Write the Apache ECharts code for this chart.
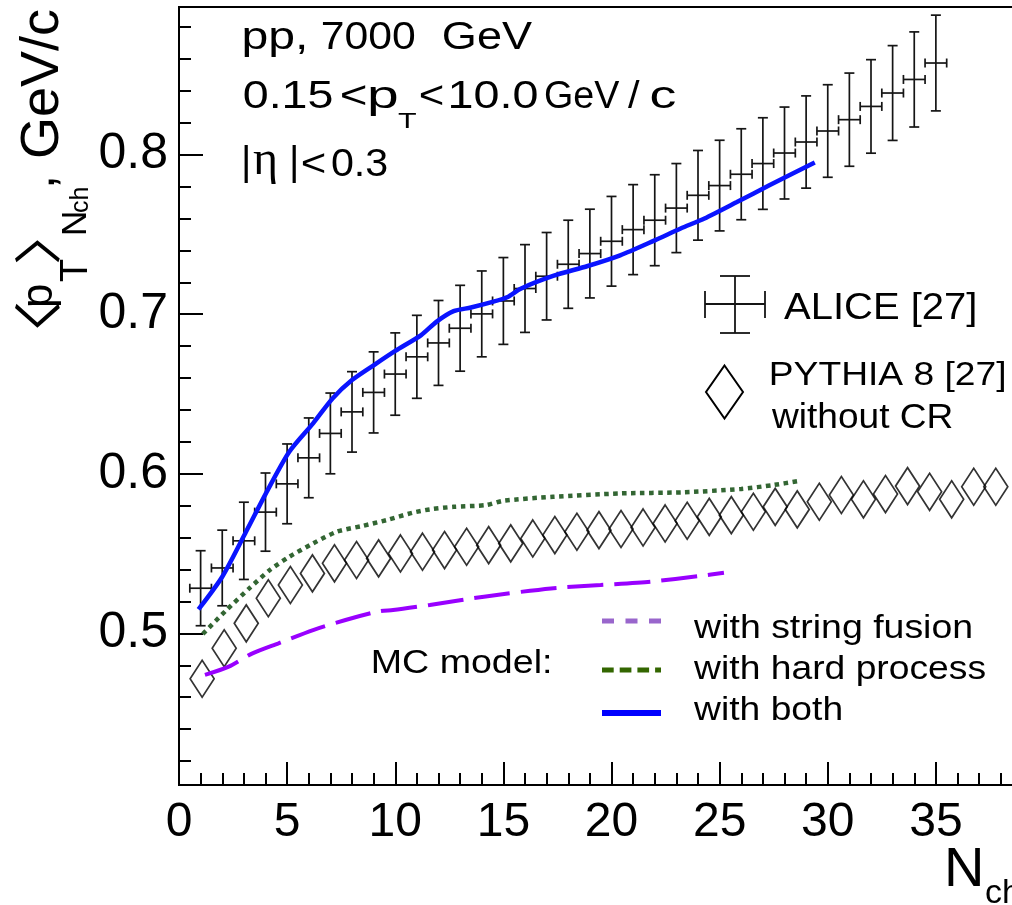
<!DOCTYPE html>
<html><head><meta charset="utf-8">
<script src="https://cdn.jsdelivr.net/npm/echarts@6/dist/echarts.min.js"></script>
<style>html,body{margin:0;padding:0;background:#fff;overflow:hidden;width:1012px;height:905px}#c{width:1044px;height:905px}</style>
</head><body><div id="c"></div>
<script>
// ALICE data (N_ch, <pT>, error)
const aliceX = [1,2,3,4,5,6,7,8,9,10,11,12,13,14,15,16,17,18,19,20,21,22,23,24,25,26,27,28,29,30,31,32,33,34,35];
const aliceY = [0.5283,0.541,0.558,0.576,0.5937,0.610,0.6253,0.6388,0.651,0.6625,0.6733,0.682,0.6912,0.7002,0.7083,0.7161,0.7238,0.7313,0.738,0.7457,0.753,0.7589,0.7665,0.7745,0.7806,0.7877,0.7944,0.801,0.8079,0.8148,0.8219,0.8302,0.8386,0.8471,0.8574];
const aliceErr = [0.0235,0.0237,0.0242,0.0245,0.025,0.025,0.0253,0.0252,0.0254,0.0258,0.026,0.0266,0.0269,0.0269,0.0272,0.0275,0.0274,0.0276,0.0278,0.0281,0.0282,0.0285,0.0279,0.0281,0.0284,0.0285,0.0287,0.0288,0.0289,0.029,0.0292,0.0293,0.0297,0.0298,0.030];
// PYTHIA 8 without CR
const pythiaX = [1.07,2.09,3.11,4.13,5.15,6.17,7.19,8.21,9.23,10.24,11.26,12.28,13.30,14.32,15.34,16.36,17.38,18.40,19.42,20.44,21.46,22.48,23.50,24.52,25.54,26.56,27.57,28.59,29.61,30.63,31.65,32.67,33.69,34.71,35.73,36.75,37.77];
const pythiaY = [0.4716,0.4907,0.5063,0.522,0.5303,0.5376,0.5439,0.546,0.547,0.5501,0.5512,0.5522,0.5543,0.5553,0.5564,0.5595,0.5616,0.5637,0.5647,0.5654,0.5664,0.5689,0.5706,0.573,0.5741,0.5762,0.5793,0.5777,0.5825,0.5867,0.584,0.5873,0.5923,0.5887,0.584,0.5919,0.5919];
// MC model curves
const bothX = [0.9,2.0,3.1,4.1,5.1,6.2,7.1,8.0,9,10,11.2,11.9,12.7,13.5,14.5,15.2,15.8,17.3,18.9,20.4,22.0,23.2,24.3,25.8,27.3,29.4];
const bothY = [0.515,0.5355,0.5637,0.5898,0.6138,0.6316,0.6472,0.6587,0.668,0.677,0.6869,0.6952,0.7019,0.7042,0.7077,0.7108,0.716,0.724,0.7302,0.7369,0.7463,0.7537,0.760,0.7703,0.7808,0.795];
const hardX = [1.1,2.2,3.25,4.2,5.1,6.2,7.3,8.5,9.6,10.8,11.6,12.7,14.2,15.0,17.3,20.4,23.3,26,27.5,28.7];
const hardY = [0.4996,0.5147,0.5282,0.5397,0.548,0.5564,0.5637,0.5674,0.571,0.5756,0.5777,0.5793,0.5804,0.5831,0.5856,0.5877,0.5884,0.5905,0.593,0.5956];
const fusionX = [1.2,2.3,3.4,4.6,6.2,7.7,9.3,9.9,11.6,14.1,17.2,19.5,21.8,24.1,25.2];
const fusionY = [0.474,0.4792,0.4875,0.4938,0.5021,0.5084,0.514,0.5146,0.5178,0.523,0.5282,0.5303,0.5324,0.536,0.538];
// axis ticks
const yMajorTicks = [0.5,0.6,0.7,0.8];
const yMinorTicks = [0.42,0.44,0.46,0.48,0.50,0.52,0.54,0.56,0.58,0.60,0.62,0.64,0.66,0.68,0.70,0.72,0.74,0.76,0.78,0.80,0.82,0.84,0.86,0.88];

const FONT = '"Liberation Sans", Arial, sans-serif';
const mctx = document.createElement('canvas').getContext('2d');
function T(text, x, base, size, extra, family) {
  const el = {type:'text', x:x, y: base - 0.347*size, style:{text:text, fontSize:size, fontFamily: family || FONT, fill:'#000', align:'left', verticalAlign:'middle', textAlign:'left', textVerticalAlign:'middle'}};
  return Object.assign(el, extra || {});
}
// text whose ink spans [inkL, inkR] along the writing direction (in the parent's frame)
function F(text, inkL, inkR, base, size, family) {
  const fam = family || FONT;
  mctx.font = size + 'px ' + fam;
  const m = mctx.measureText(text);
  const inkW = m.actualBoundingBoxRight + m.actualBoundingBoxLeft;
  const s = (inkR - inkL) / inkW;
  return T(text, inkL + m.actualBoundingBoxLeft * s, base, size, {scaleX: s}, fam);
}
// like F, but the ink is centred on 'mid' across the writing direction
function FC(text, inkL, inkR, mid, size, family) {
  const fam = family || FONT;
  mctx.font = size + 'px ' + fam;
  mctx.textBaseline = 'middle';
  const m = mctx.measureText(text);
  mctx.textBaseline = 'alphabetic';
  const inkW = m.actualBoundingBoxRight + m.actualBoundingBoxLeft;
  const s = (inkR - inkL) / inkW;
  const el = T(text, inkL + m.actualBoundingBoxLeft * s, 0, size, {scaleX: s}, fam);
  el.y = mid - (m.actualBoundingBoxDescent - m.actualBoundingBoxAscent) / 2;
  return el;
}
function L(x1,y1,x2,y2,color,width,dash){
  return {type:'line', shape:{x1:x1,y1:y1,x2:x2,y2:y2}, style:{stroke:color, lineWidth:width, lineDash:dash||null, fill:null}};
}
const pair = (xs, ys) => xs.map((x,i)=>[x, ys[i]]);

const chart = echarts.init(document.getElementById('c'), null, {renderer:'canvas'});
chart.setOption({
  animation:false,
  backgroundColor:'#fff',
  grid:{left:179, top:7, right:0, bottom:120, outerBoundsMode:'none', containLabel:false, show:true, borderColor:'#000', borderWidth:2, backgroundColor:'transparent'},
  xAxis:{type:'value', min:0, max:40, interval:5,
    axisLine:{show:true, lineStyle:{color:'#000', width:2}},
    axisTick:{show:true, inside:true, length:23, lineStyle:{color:'#000', width:2}},
    minorTick:{show:true, splitNumber:5, length:12, lineStyle:{color:'#000', width:2}},
    axisLabel:{fontSize:48, fontFamily:FONT, color:'#000', margin:14},
    splitLine:{show:false}, minorSplitLine:{show:false}},
  yAxis:[
    {type:'value', min:0.405, max:0.8925, position:'left',
      axisLine:{show:true, lineStyle:{color:'#000', width:2}},
      axisTick:{show:true, inside:true, length:24, customValues:yMajorTicks, lineStyle:{color:'#000', width:2}},
      axisLabel:{show:true, customValues:yMajorTicks, fontSize:50, fontFamily:FONT, color:'#000', margin:11, formatter:v=>v.toFixed(1)},
      splitLine:{show:false}},
    {type:'value', min:0.405, max:0.8925, position:'left',
      axisLine:{show:false},
      axisTick:{show:true, inside:true, length:12, customValues:yMinorTicks, lineStyle:{color:'#000', width:2}},
      axisLabel:{show:false},
      splitLine:{show:false}}
  ],
  series:[
    {type:'custom', name:'ALICE [27]', xAxisIndex:0, yAxisIndex:0, z:3,
      data: aliceX.map((x,i)=>[x, aliceY[i], aliceErr[i]]),
      encode:{x:0, y:1},
      renderItem:function(params, api){
        const x = api.value(0), y = api.value(1), e = api.value(2);
        const pT = api.coord([x, y+e]), pB = api.coord([x, y-e]);
        const pL = api.coord([x-0.5, y]), pR = api.coord([x+0.5, y]);
        const cw = 5, ch = 4.5, c = '#151515', w = 1.7;
        return {type:'group', children:[
          L(pT[0],pT[1],pB[0],pB[1],c,w),
          L(pT[0]-cw,pT[1],pT[0]+cw,pT[1],c,w),
          L(pB[0]-cw,pB[1],pB[0]+cw,pB[1],c,w),
          L(pL[0],pL[1],pR[0],pR[1],c,w),
          L(pL[0],pL[1]-ch,pL[0],pL[1]+ch,c,w),
          L(pR[0],pR[1]-ch,pR[0],pR[1]+ch,c,w)
        ]};
      }},
    {type:'scatter', name:'PYTHIA 8 [27] without CR', z:4,
      data: pair(pythiaX, pythiaY), symbol:'diamond', symbolSize:[24,37],
      itemStyle:{color:'rgba(0,0,0,0)', borderColor:'#000', borderWidth:1.8}},
    {type:'line', name:'with hard process', z:5, data: pair(hardX, hardY), showSymbol:false, smooth:0.25,
      lineStyle:{color:'#336633', width:4.5, type:[4.5,4.5], cap:'butt'}},
    {type:'line', name:'with string fusion', z:5, data: pair(fusionX, fusionY), showSymbol:false, smooth:0.25,
      lineStyle:{color:'#9900ff', width:4, type:[36,11], cap:'butt'}},
    {type:'line', name:'with both', z:6, data: pair(bothX, bothY), showSymbol:false, smooth:0.25,
      lineStyle:{color:'#0a14ff', width:4.5}}
  ],
  graphic:[
    // y-axis title (rotated; local x runs upward, local y runs rightward)
    {type:'group', x:0, y:330, rotation:Math.PI/2, children:[
      FC('〈', 2, 27, 37.5, 48, 'Noto Sans CJK JP'),
      T('p', 22, 55, 44),
      T('T', 48, 90, 38),
      FC('〉', 67, 90, 37.5, 48, 'Noto Sans CJK JP'),
      T('N', 94, 88, 35),
      T('ch', 117, 90, 25),
      T(',', 141, 58, 50),
      F('GeV/c', 173, 320, 62, 54)
    ]},
    // x-axis title
    F('N', 948, 980, 890, 56),
    T('ch', 985, 905, 34),
    // top-left annotation
    F('pp,', 244, 305, 51.7, 39), F('7000', 323, 415, 51.7, 39), F('GeV', 443, 532, 51.7, 39),
    F('0.15', 244, 332, 110.7, 38), F('<', 341, 366, 110.7, 38), F('p', 370, 397, 110.7, 38), F('T', 398, 416, 130, 22),
    F('<', 420, 443, 110.7, 38), F('10.0', 450, 537, 110.7, 38), F('GeV', 545, 620, 110.7, 38), F('/', 628, 640, 110.7, 38), F('c', 651, 675, 110.7, 38),
    T('|', 241, 178.3, 40), T('η', 253, 178.3, 48, null, '"Liberation Serif", serif'), T('|', 289, 178.3, 40),
    F('<', 302, 325, 178.3, 38), F('0.3', 332, 387, 178.3, 38),
    // legend: ALICE
    L(735,276,735,333,'#151515',1.8), L(720,276,750,276,'#151515',1.8), L(720,333,750,333,'#151515',1.8),
    L(705,304,765,304,'#151515',1.8), L(705,291,705,318,'#151515',1.8), L(765,291,765,318,'#151515',1.8),
    F('ALICE [27]', 784, 975, 321.7, 37),
    // legend: PYTHIA
    {type:'polygon', shape:{points:[[724.5,365.5],[743,392],[724.5,418.5],[706,392]]}, style:{fill:'none', stroke:'#000', lineWidth:2}},
    F('PYTHIA 8 [27]', 771, 1005, 387.3, 34),
    F('without CR', 771, 952, 430, 35),
    // legend: MC model
    F('MC model:', 373, 550, 675, 33),
    L(602,621,661,621,'#9966cc',5,[12,11.5]),
    L(602,670,661,670,'#336600',5,[11.7,6]),
    L(602,713,661,713,'#0000ff',6),
    F('with string fusion', 693, 971, 640.7, 34),
    F('with hard process', 693, 985, 681.7, 34),
    F('with both', 693, 841, 722.7, 34)
  ]
});
</script>
</body></html>
